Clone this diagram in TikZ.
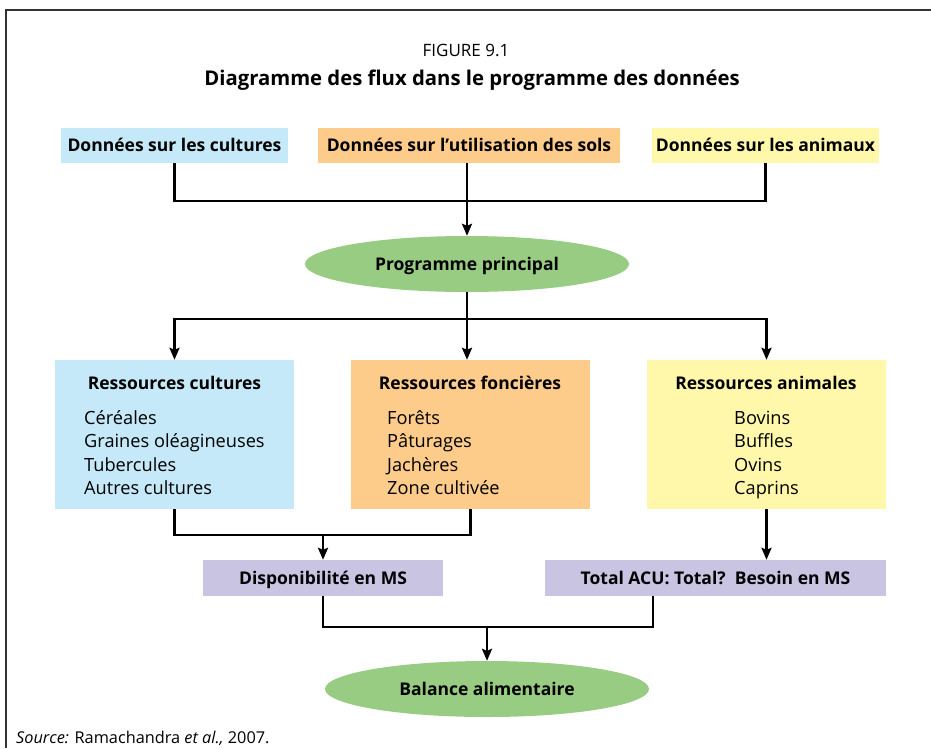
\documentclass[tikz,border=0pt]{standalone}
\usepackage{fontspec}
\setmainfont{Open Sans}
\usetikzlibrary{shapes.geometric,arrows.meta,calc}

\definecolor{cultblue}{RGB}{197,233,248}
\definecolor{landorange}{RGB}{253,203,138}
\definecolor{animyellow}{RGB}{255,247,170}
\definecolor{msviolet}{RGB}{200,196,226}
\definecolor{progreen}{RGB}{152,204,130}

\begin{document}
\begin{tikzpicture}[x=1pt,y=-1pt,
  txt/.style={font=\fontsize{18.2}{22}\selectfont},
  boldtxt/.style={font=\bfseries\fontsize{17.5}{21}\selectfont},
  box/.style={rectangle, inner sep=0pt, boldtxt, text height=12.5pt, text depth=0pt},
  panel/.style={rectangle, inner sep=0pt, minimum width=239pt, minimum height=149pt},
  oval/.style={ellipse, fill=progreen, inner sep=0pt, minimum width=324pt, minimum height=56pt,
               boldtxt, text height=12.5pt, text depth=0pt},
  item/.style={txt, anchor=base west, inner sep=0pt},
  head/.style={boldtxt, anchor=base, inner sep=0pt},
  link/.style={line width=2.4pt},
  flow/.style={line width=2.4pt, -{Stealth[length=12pt,width=10pt,inset=2pt]}},
]
\useasboundingbox (0,0) rectangle (931,748);

% frame
\draw[line width=1.4pt, black!80] (6,748) -- (6,10) -- (931,10);

% heading
\node[inner sep=0pt, font=\fontsize{17}{21}\selectfont] (fig) at (466,50) {FIGURE 9.1};
\node[inner sep=0pt, font=\bfseries\fontsize{20.3}{24}\selectfont] (ttl) at (472,80) {Diagramme des flux dans le programme des données};

% input data
\node[box, fill=cultblue, minimum width=227pt, minimum height=35pt] (d1) at (174.5,145.5) {Données sur les cultures};
\node[box, fill=landorange, minimum width=302pt, minimum height=35pt] (d2) at (469,145.5) {Données sur l’utilisation des sols};
\node[box, fill=animyellow, minimum width=227pt, minimum height=35pt] (d3) at (765.5,145.5) {Données sur les animaux};

% main program
\node[oval] (prog) at (467,264) {Programme principal};

% resource panels
\node[panel, fill=cultblue] (rA) at (174.5,434.5) {};
\node[panel, fill=landorange] (rB) at (470.5,434.5) {};
\node[panel, fill=animyellow] (rC) at (766.5,434.5) {};

\node[head] (hA) at (174.5,389) {Ressources cultures};
\node[head] (hB) at (470,389) {Ressources foncières};
\node[head] (hC) at (766,389) {Ressources animales};

\foreach \t [count=\i] in {Céréales, Graines oléagineuses, Tubercules, Autres cultures}
  \node[item] (a\i) at (84,{400.5+23.6*\i}) {\t};
\foreach \t [count=\i] in {Forêts, Pâturages, Jachères, Zone cultivée}
  \node[item] (b\i) at (387,{400.5+23.6*\i}) {\t};
\foreach \t [count=\i] in {Bovins, Buffles, Ovins, Caprins}
  \node[item] (c\i) at (734,{400.5+23.6*\i}) {\t};

% dry matter
\node[box, fill=msviolet, minimum width=240pt, minimum height=36pt] (disp) at (323,578) {Disponibilité en MS};
\node[box, fill=msviolet, minimum width=341pt, minimum height=36pt] (tot) at (715.5,578) {Total ACU: Total?\ \ Besoin en MS};

% feed balance
\node[oval] (bal) at (487,689) {Balance alimentaire};

% source
\node[anchor=base west, inner sep=0pt, font=\fontsize{16.3}{20}\selectfont] (src) at (16,743)
  {\textit{Source:} Ramachandra \textit{et al.,} 2007.};

% junctions
\coordinate (j1) at (467,201);
\coordinate (j2) at (467,319);
\coordinate (j3) at (323,535);
\coordinate (j4) at (487,627);

% connectors
\draw[link] (d1.south) |- (j1) -| (d3.south);
\draw[flow] (d2.south -| j1) -- (prog.north);
\draw[link] (prog.south) -- (j2);
\draw[flow] (j2) -| (rA.north);
\draw[flow] (j2) -| (rC.north);
\draw[flow] (j2) -- (j2 |- rB.north);
\draw[link] (rA.south) |- (j3) -| (rB.south);
\draw[flow] (j3) -- (disp.north);
\draw[flow] (rC.south) -- (rC.south |- tot.north);
\draw[link] (disp.south) |- (j4) -| ([xshift=108pt]tot.south west);
\draw[flow] (j4) -- (bal.north);
\end{tikzpicture}
\end{document}
